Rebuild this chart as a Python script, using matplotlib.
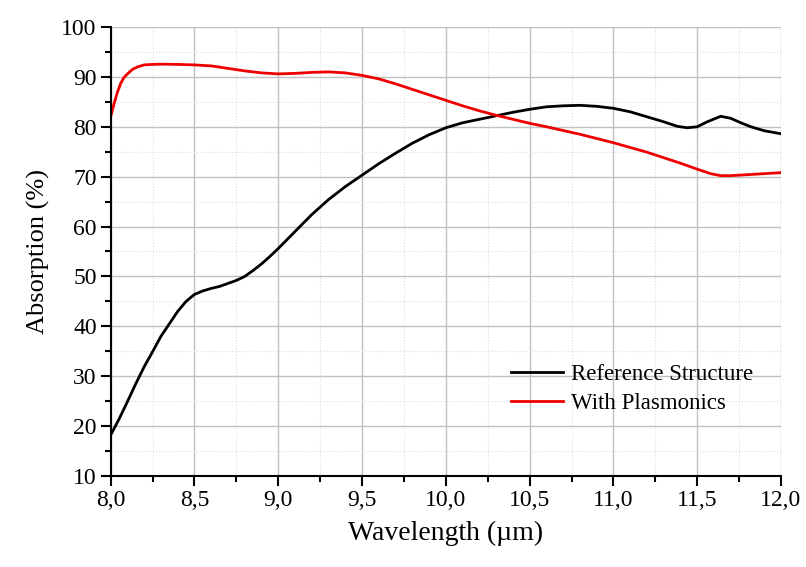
import numpy as np
import matplotlib
matplotlib.use("Agg")
import matplotlib.pyplot as plt
from matplotlib.ticker import MultipleLocator, FuncFormatter

# Datos (longitud de onda en um, absorcion en %)
wl_ref = [8.00, 8.05, 8.10, 8.15, 8.20, 8.25, 8.30, 8.35, 8.40, 8.45, 8.50, 8.55,
          8.60, 8.65, 8.70, 8.75, 8.80, 8.85, 8.90, 8.95, 9.00, 9.10, 9.20, 9.30,
          9.40, 9.50, 9.60, 9.70, 9.80, 9.90, 10.00, 10.10, 10.20, 10.30, 10.40,
          10.50, 10.60, 10.70, 10.80, 10.90, 11.00, 11.10, 11.20, 11.30, 11.38,
          11.44, 11.50, 11.56, 11.64, 11.70, 11.76, 11.82, 11.90, 12.00]
abs_ref = [18.2, 21.4, 24.9, 28.5, 31.9, 34.9, 38.0, 40.5, 43.0, 45.0, 46.4, 47.1,
           47.6, 48.0, 48.6, 49.2, 50.0, 51.2, 52.5, 54.0, 55.6, 59.0, 62.4, 65.4,
           68.0, 70.3, 72.6, 74.7, 76.7, 78.4, 79.8, 80.8, 81.5, 82.2, 82.9,
           83.5, 84.0, 84.2, 84.3, 84.1, 83.7, 83.0, 82.0, 81.0, 80.1,
           79.8, 80.0, 81.0, 82.1, 81.7, 80.8, 80.0, 79.2, 78.6]

wl_pla = [8.00, 8.02, 8.04, 8.06, 8.08, 8.10, 8.13, 8.16, 8.20, 8.25, 8.30, 8.40,
          8.50, 8.60, 8.70, 8.80, 8.90, 9.00, 9.10, 9.20, 9.30, 9.40, 9.50, 9.60,
          9.70, 9.80, 9.90, 10.00, 10.10, 10.20, 10.30, 10.40, 10.50, 10.60,
          10.80, 11.00, 11.20, 11.40, 11.50, 11.58, 11.64, 11.70, 11.80, 11.90,
          12.00]
abs_pla = [82.0, 84.6, 86.9, 88.7, 89.9, 90.6, 91.5, 92.0, 92.4, 92.5, 92.55, 92.5,
           92.4, 92.2, 91.7, 91.2, 90.8, 90.6, 90.7, 90.9, 91.0, 90.8, 90.3, 89.6,
           88.6, 87.5, 86.4, 85.3, 84.2, 83.2, 82.3, 81.5, 80.7, 80.0,
           78.5, 76.8, 74.9, 72.7, 71.5, 70.6, 70.2, 70.2, 70.4, 70.6,
           70.8]

plt.rcParams['font.family'] = ['Liberation Serif', 'DejaVu Serif']

fig = plt.figure(figsize=(8.06, 5.67), dpi=100)
ax = fig.add_axes([0.1373, 0.1605, 0.8317, 0.7919])

ax.plot(wl_ref, abs_ref, color='black', linewidth=2, label='Reference Structure')
ax.plot(wl_pla, abs_pla, color='#ee0000', linewidth=2, label='With Plasmonics')

ax.set_xlim(8, 12)
ax.set_ylim(10, 100)
ax.xaxis.set_major_locator(MultipleLocator(0.5))
ax.xaxis.set_minor_locator(MultipleLocator(0.25))
ax.yaxis.set_major_locator(MultipleLocator(10))
ax.yaxis.set_minor_locator(MultipleLocator(5))
ax.xaxis.set_major_formatter(FuncFormatter(lambda v, p: f'{v:.1f}'.replace('.', ',')))

ax.grid(True, which='major', color='#c0c0c0', linewidth=1.0, linestyle='-')
ax.grid(True, which='minor', color='#dddddd', linewidth=0.8, linestyle=':')
ax.set_axisbelow(True)

for s in ['top', 'right']:
    ax.spines[s].set_visible(False)
for s in ['left', 'bottom']:
    ax.spines[s].set_linewidth(1.5)

ax.tick_params(which='major', direction='out', length=7, width=1.5, labelsize=17, pad=3)
ax.tick_params(which='minor', direction='out', length=4, width=1.5)

ax.set_xlabel('Wavelength (µm)', fontsize=20, labelpad=7)
ax.set_ylabel('Absorption (%)', fontsize=19, labelpad=8)

ax.legend(loc='upper left', bbox_to_anchor=(0.566, 0.295), frameon=False,
          fontsize=16.5, handlelength=2.27, handletextpad=0.35, labelspacing=0.32)

fig.savefig('out.png', dpi=100)
